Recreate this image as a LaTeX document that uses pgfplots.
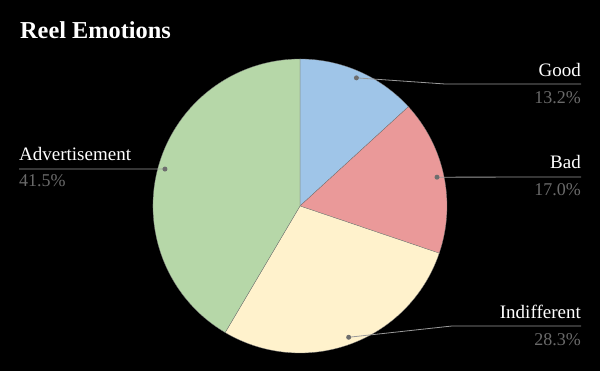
\documentclass[border=0pt]{standalone}
\usepackage{pgfplots}
\usepackage{pgfplotstable}
\pgfplotsset{compat=1.18}
\usepackage{fontspec}
\setmainfont{Liberation Serif}
\definecolor{cgood}{HTML}{9FC5E8}
\definecolor{cbad}{HTML}{EA9999}
\definecolor{cind}{HTML}{FFF2CC}
\definecolor{cadv}{HTML}{B6D7A8}
\definecolor{pctgray}{HTML}{6A6A6A}
\definecolor{leadgray}{HTML}{9A9A9A}
\definecolor{dotgray}{HTML}{6E6E6E}
\pgfplotstableread{
label value color
Good 13.2 cgood
Bad 17.0 cbad
Indifferent 28.3 cind
Advertisement 41.5 cadv
}\piedata
\begin{document}
\begin{tikzpicture}
\begin{axis}[hide axis, x=1pt, y=1pt, xmin=0, xmax=600, ymin=0, ymax=371,
  scale only axis, clip=false]
\fill[black] (axis cs:0,0) rectangle (axis cs:600,371);
% pie slices
\gdef\cum{90}
\foreach \i in {0,...,3} {
  \pgfplotstablegetelem{\i}{value}\of\piedata \let\v\pgfplotsretval
  \pgfplotstablegetelem{\i}{color}\of\piedata \let\c\pgfplotsretval
  \pgfmathsetmacro\a{\cum}
  \pgfmathsetmacro\b{\cum-3.6*\v}
  \pgfmathsetmacro\m{(\a+\b)/2}
  \edef\temp{\noexpand\fill[\c, draw=black!55, line width=0.3pt] (axis cs:300,165) -- ++(\a:147pt) arc[start angle=\a, end angle=\b, radius=147pt] -- cycle;
    \noexpand\coordinate (d\i) at ([shift={(\m:140pt)}]axis cs:300,165);}
  \temp
  \xdef\cum{\b}
}
% leader lines
\draw[leadgray, line width=0.8pt] (d0) -- (axis cs:445,287) -- (axis cs:581,287);
\draw[leadgray, line width=0.8pt] (d1) -- (axis cs:581,194);
\draw[leadgray, line width=0.8pt] (d2) -- (axis cs:452,45) -- (axis cs:581,45);
\draw[leadgray, line width=0.8pt] (d3) -- (axis cs:19,202);
\foreach \i in {0,...,3} {\edef\temp{\noexpand\fill[dotgray] (d\i) circle[radius=2.5pt];}\temp}
% labels
\node[anchor=base west, white, font=\fontsize{24.3}{27}\selectfont\bfseries, inner sep=0pt] at (axis cs:20,332) {Reel Emotions};
\node[anchor=base east, white, font=\fontsize{19}{22}\selectfont, inner sep=0pt] at (axis cs:581,294) {Good};
\node[anchor=base east, pctgray, font=\fontsize{18}{21}\selectfont, inner sep=0pt] at (axis cs:581,267) {13.2\%};
\node[anchor=base east, white, font=\fontsize{19}{22}\selectfont, inner sep=0pt] at (axis cs:581,202) {Bad};
\node[anchor=base east, pctgray, font=\fontsize{18}{21}\selectfont, inner sep=0pt] at (axis cs:581,175) {17.0\%};
\node[anchor=base east, white, font=\fontsize{19}{22}\selectfont, inner sep=0pt] at (axis cs:581,52) {Indifferent};
\node[anchor=base east, pctgray, font=\fontsize{18}{21}\selectfont, inner sep=0pt] at (axis cs:581,25) {28.3\%};
\node[anchor=base west, white, font=\fontsize{19}{22}\selectfont, inner sep=0pt] at (axis cs:19,210) {Advertisement};
\node[anchor=base west, pctgray, font=\fontsize{18}{21}\selectfont, inner sep=0pt] at (axis cs:19,184) {41.5\%};
\end{axis}
\end{tikzpicture}
\end{document}
